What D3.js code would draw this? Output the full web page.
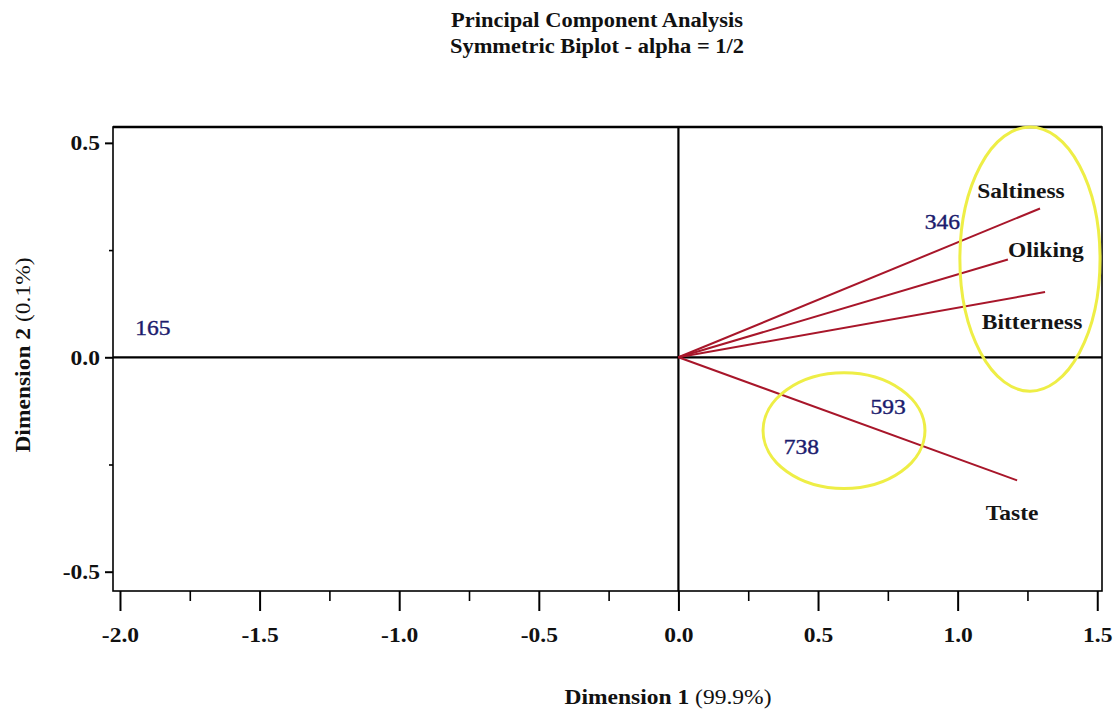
<!DOCTYPE html>
<html><head><meta charset="utf-8">
<script src="https://cdn.jsdelivr.net/npm/d3@7"></script>
<style>body{margin:0;background:#fff}svg{display:block}</style>
</head><body>
<svg id="c" width="1115" height="711"></svg>
<script>
// ---- data ----
const variables = ["Saltiness", "Oliking", "Bitterness", "Taste"];
const loadingX = [1.295, 1.18, 1.313, 1.213];
const loadingY = [0.347, 0.228, 0.152, -0.287];
const observations = ["165", "346", "593", "738"];
const scoreX = [-1.882, 0.945, 0.751, 0.44];
const scoreY = [0.068, 0.315, -0.116, -0.21];
const xTicks = [-2.0, -1.5, -1.0, -0.5, 0.0, 0.5, 1.0, 1.5];
const xMinorTicks = [-1.75, -1.25, -0.75, -0.25, 0.25, 0.75, 1.25];
const yTicks = [0.5, 0.0, -0.5];
const yMinorTicks = [0.25, -0.25];
const groupCX = [1.259, 0.593];
const groupCY = [0.229, -0.171];
const groupRX = [0.251, 0.290];
const groupRY = [0.308, 0.135];
const titleText = "Principal Component Analysis";
const subtitleText = "Symmetric Biplot - alpha = 1/2";
const xTitle = ["Dimension 1 ", "(99.9%)"];
const yTitle = ["Dimension 2 ", "(0.1%)"];

// ---- layout / style ----
const L = 113, R = 1102, T = 127, B = 591;
const x = d3.scaleLinear().domain([-2.025, 1.517]).range([L, R]);
const y = d3.scaleLinear().domain([-0.545, 0.537]).range([B, T]);
const FONT = '"Liberation Serif","Times New Roman",serif';
const FS = 21;
const SX = 1.12;
const svg = d3.select("#c").attr("font-family", FONT);

// label offsets (px) for variable names relative to arrow tips
const varLabelDX = [-19, 38, -13, -5];
const varLabelDY = [-10, -3, 37, 40];

// titles
svg.append("text").attr("transform", `translate(597,27) scale(1.07,1)`)
  .attr("text-anchor", "middle").attr("font-size", FS).attr("font-weight", "bold")
  .attr("fill", "#111").text(titleText);
svg.append("text").attr("transform", `translate(597,53) scale(1.07,1)`)
  .attr("text-anchor", "middle").attr("font-size", FS).attr("font-weight", "bold")
  .attr("fill", "#111").text(subtitleText);

// frame
svg.append("rect").attr("x", L).attr("y", T).attr("width", R - L).attr("height", B - T)
  .attr("fill", "none").attr("stroke", "#000").attr("stroke-width", 1.6);
svg.append("line").attr("x1", L).attr("x2", R).attr("y1", T).attr("y2", T)
  .attr("stroke", "#000").attr("stroke-width", 2.6);

// x axis
const fmt = d => d.toFixed(1);
const gx = svg.append("g").attr("transform", `translate(0,${B})`)
  .call(d3.axisBottom(x).tickValues(xTicks).tickSize(20).tickSizeOuter(0).tickPadding(16).tickFormat(fmt));
const gxm = svg.append("g").attr("transform", `translate(0,${B})`)
  .call(d3.axisBottom(x).tickValues(xMinorTicks).tickSize(10).tickSizeOuter(0).tickFormat(""));
// y axis
const gy = svg.append("g").attr("transform", `translate(${L},0)`)
  .call(d3.axisLeft(y).tickValues(yTicks).tickSize(8).tickSizeOuter(0).tickPadding(6).tickFormat(fmt));
const gym = svg.append("g").attr("transform", `translate(${L},0)`)
  .call(d3.axisLeft(y).tickValues(yMinorTicks).tickSize(4).tickSizeOuter(0).tickFormat(""));
[gx, gxm, gy, gym].forEach(g => {
  g.select(".domain").remove();
  g.selectAll("line").attr("stroke", "#000").attr("stroke-width", 2);
  g.selectAll("text").attr("font-family", FONT).attr("font-size", FS)
    .attr("font-weight", "bold").attr("fill", "#111");
});
gxm.selectAll("line").attr("stroke-width", 1.6);
gym.selectAll("line").attr("stroke-width", 1.6);
gx.selectAll("text").attr("transform", `scale(${SX},1)`);
gy.selectAll("text").attr("x", null).attr("transform", `translate(-13,0) scale(${SX},1)`);

// zero lines
svg.append("line").attr("x1", L).attr("x2", R).attr("y1", y(0)).attr("y2", y(0))
  .attr("stroke", "#000").attr("stroke-width", 2.2);
svg.append("line").attr("x1", x(0)).attr("x2", x(0)).attr("y1", T).attr("y2", B)
  .attr("stroke", "#000").attr("stroke-width", 2.2);

// vectors
const vars = variables.map((v, i) => ({ name: v, lx: loadingX[i], ly: loadingY[i], dx: varLabelDX[i], dy: varLabelDY[i] }));
svg.append("g").selectAll("line").data(vars).join("line")
  .attr("x1", x(0)).attr("y1", y(0))
  .attr("x2", d => x(d.lx)).attr("y2", d => y(d.ly))
  .attr("stroke", "#a8162a").attr("stroke-width", 2);

// group ellipses
const groups = groupCX.map((c, i) => ({ cx: c, cy: groupCY[i], rx: groupRX[i], ry: groupRY[i] }));
svg.append("g").selectAll("ellipse").data(groups).join("ellipse")
  .attr("cx", d => x(d.cx)).attr("cy", d => y(d.cy))
  .attr("rx", d => x(d.cx + d.rx) - x(d.cx)).attr("ry", d => y(d.cy - d.ry) - y(d.cy))
  .attr("fill", "none").attr("stroke", "#eeee46").attr("stroke-width", 3);

// variable labels
svg.append("g").selectAll("text").data(vars).join("text")
  .attr("transform", d => `translate(${x(d.lx) + d.dx},${y(d.ly) + d.dy}) scale(${SX},1)`)
  .attr("text-anchor", "middle").attr("font-size", FS).attr("font-weight", "bold")
  .attr("fill", "#151515").text(d => d.name);

// observation labels
const obs = observations.map((o, i) => ({ name: o, sx: scoreX[i], sy: scoreY[i] }));
svg.append("g").selectAll("text").data(obs).join("text")
  .attr("transform", d => `translate(${x(d.sx)},${y(d.sy) + 7}) scale(${SX},1)`)
  .attr("text-anchor", "middle").attr("font-size", FS)
  .attr("fill", "#1c1c6e").attr("stroke", "#1c1c6e").attr("stroke-width", 0.4).text(d => d.name);

// axis titles
const xt = svg.append("text").attr("transform", `translate(668,704) scale(${SX},1)`)
  .attr("text-anchor", "middle").attr("font-size", FS).attr("fill", "#111");
xt.append("tspan").attr("font-weight", "bold").text(xTitle[0]);
xt.append("tspan").text(xTitle[1]);
const yt = svg.append("text").attr("transform", `translate(30,355) rotate(-90) scale(${SX},1)`)
  .attr("text-anchor", "middle").attr("font-size", FS).attr("fill", "#111");
yt.append("tspan").attr("font-weight", "bold").text(yTitle[0]);
yt.append("tspan").text(yTitle[1]);
</script>
</body></html>
